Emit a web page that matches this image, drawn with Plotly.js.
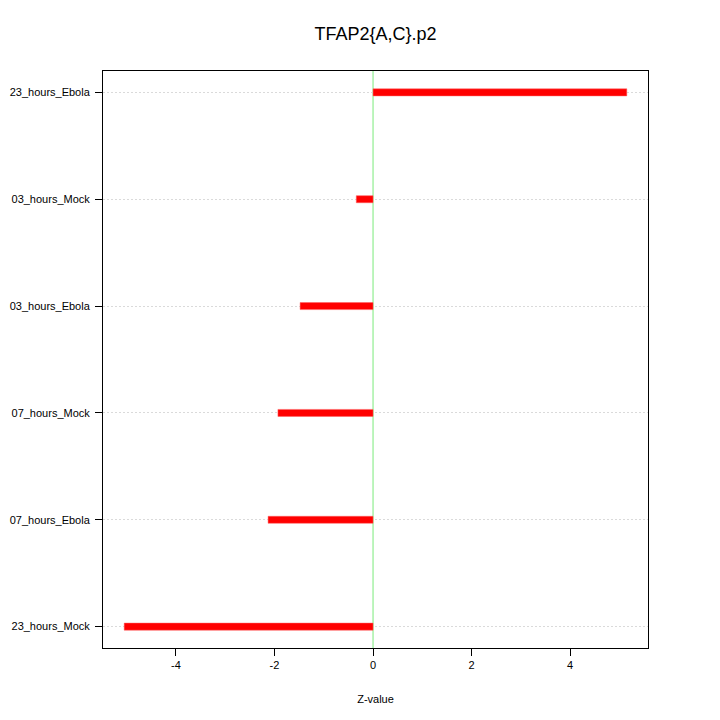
<!DOCTYPE html>
<html>
<head>
<meta charset="utf-8">
<script src="https://cdn.plot.ly/plotly-3.0.1.min.js"></script>
<style>body{margin:0;padding:0;background:#fff;}#chart{width:720px;height:720px;}</style>
</head>
<body>
<div id="chart"></div>
<script>
var categories = ["23_hours_Mock", "07_hours_Ebola", "07_hours_Mock", "03_hours_Ebola", "03_hours_Mock", "23_hours_Ebola"];
var zValues = [-5.05, -2.13, -1.93, -1.48, -0.34, 5.15];
var xTicks = [-4, -2, 0, 2, 4];

var trace = {
  type: "bar",
  orientation: "h",
  x: zValues,
  y: categories,
  width: 0.066,
  marker: {color: "#ff0000", line: {width: 0.5, color: "#ff6060"}},
  hoverinfo: "x+y"
};

var layout = {
  width: 720, height: 720,
  margin: {l: 103, r: 72, t: 71, b: 72},
  paper_bgcolor: "#ffffff",
  plot_bgcolor: "#ffffff",
  showlegend: false,
  font: {family: "Liberation Sans, Arial, sans-serif", color: "#000"},
  title: {text: "TFAP2{A,C}.p2", font: {size: 18, color: "#000"}, xref: "paper", x: 0.5, xanchor: "center", y: 0.953, yanchor: "middle"},
  xaxis: {
    range: [-5.48, 5.58],
    tickvals: xTicks,
    ticktext: xTicks.map(String),
    ticks: "outside", ticklen: 7, tickcolor: "#000",
    showgrid: false,
    zeroline: false,
    showline: true, linecolor: "#000", linewidth: 1, mirror: true,
    tickfont: {size: 11},
    title: {text: "Z-value", font: {size: 11}, standoff: 25}
  },
  yaxis: {
    type: "category",
    categoryorder: "array", categoryarray: categories,
    range: [-0.2, 5.2],
    ticks: "outside", ticklen: 7, tickcolor: "#000",
    ticklabelstandoff: 3,
    showgrid: true, gridcolor: "#dadada", griddash: "2px,2px", gridwidth: 1,
    layer: "above traces",
    zeroline: false,
    showline: true, linecolor: "#000", linewidth: 1, mirror: true,
    tickfont: {size: 11}
  },
  shapes: [{
    type: "line", xref: "x", yref: "paper", x0: 0, x1: 0, y0: 0, y1: 1,
    line: {color: "#90ee90", width: 1.2}, layer: "below"
  }],
  bargap: 0
};

Plotly.newPlot("chart", [trace], layout, {displayModeBar: false, staticPlot: true});
</script>
</body>
</html>
